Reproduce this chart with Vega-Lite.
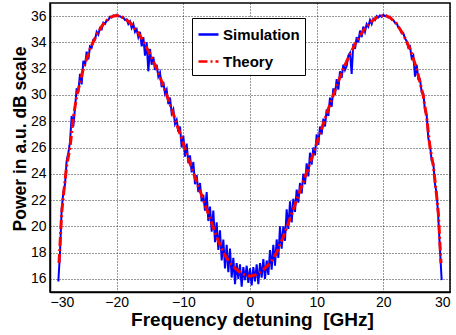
{
  "$schema": "https://vega.github.io/schema/vega-lite/v6.json",
  "width": 400,
  "height": 289,
  "autosize": {"type": "none"},
  "padding": {"left": 50, "top": 3, "right": 6, "bottom": 43},
  "background": "white",
  "config": {
    "font": "Liberation Sans",
    "view": {"stroke": "black", "strokeWidth": 1.5},
    "axis": {
      "labelFont": "Liberation Sans", "labelFontSize": 14, "labelColor": "black",
      "titleFont": "Liberation Sans", "titleFontWeight": "bold", "titleColor": "black",
      "domainColor": "black", "domainWidth": 1.5,
      "ticks": false,
      "gridColor": "black", "gridDash": [1, 2], "gridOpacity": 0.8, "gridWidth": 1
    }
  },
  "datasets": {
    "sim": [
      {"f":-28.75,"p":15.8},{"f":-28.5,"p":18.0},{"f":-28.25,"p":21.3},{"f":-28.0,"p":22.6},{"f":-27.75,"p":23.2},
      {"f":-27.5,"p":25.0},{"f":-27.25,"p":25.6},{"f":-27.0,"p":26.4},{"f":-26.75,"p":28.4},{"f":-26.5,"p":27.6},
      {"f":-26.25,"p":29.0},{"f":-26.0,"p":30.5},{"f":-25.75,"p":30.2},{"f":-25.5,"p":31.6},{"f":-25.25,"p":30.8},
      {"f":-25.0,"p":32.6},{"f":-24.75,"p":32.2},{"f":-24.5,"p":33.3},{"f":-24.25,"p":32.7},{"f":-24.0,"p":33.7},
      {"f":-23.75,"p":33.6},{"f":-23.5,"p":34.2},{"f":-23.25,"p":34.2},{"f":-23.0,"p":34.8},{"f":-22.75,"p":34.6},
      {"f":-22.5,"p":35.1},{"f":-22.25,"p":35.0},{"f":-22.0,"p":35.5},{"f":-21.75,"p":35.4},{"f":-21.5,"p":35.7},
      {"f":-21.25,"p":35.7},{"f":-21.0,"p":35.95},{"f":-20.75,"p":35.9},{"f":-20.5,"p":36.05},{"f":-20.25,"p":36.0},
      {"f":-20.0,"p":36.1},{"f":-19.75,"p":36.0},{"f":-19.5,"p":36.0},{"f":-19.25,"p":35.9},{"f":-19.0,"p":35.9},
      {"f":-18.75,"p":35.7},{"f":-18.5,"p":35.75},{"f":-18.25,"p":35.4},{"f":-18.0,"p":35.6},{"f":-17.75,"p":35.1},
      {"f":-17.5,"p":35.4},{"f":-17.25,"p":34.8},{"f":-17.0,"p":35.0},{"f":-16.75,"p":34.4},{"f":-16.5,"p":34.8},
      {"f":-16.25,"p":33.7},{"f":-16.0,"p":34.4},{"f":-15.75,"p":33.0},{"f":-15.5,"p":34.0},{"f":-15.25,"p":31.8},
      {"f":-15.0,"p":33.5},{"f":-14.75,"p":32.3},{"f":-14.5,"p":32.9},{"f":-14.25,"p":31.9},{"f":-14.0,"p":32.3},
      {"f":-13.75,"p":31.4},{"f":-13.5,"p":31.7},{"f":-13.25,"p":30.6},{"f":-13.0,"p":31.0},{"f":-12.75,"p":30.1},
      {"f":-12.5,"p":30.4},{"f":-12.25,"p":29.3},{"f":-12.0,"p":29.8},{"f":-11.75,"p":28.6},{"f":-11.5,"p":28.9},
      {"f":-11.25,"p":27.8},{"f":-11.0,"p":28.1},{"f":-10.75,"p":27.2},{"f":-10.5,"p":27.6},{"f":-10.25,"p":26.0},
      {"f":-10.0,"p":26.9},{"f":-9.75,"p":25.3},{"f":-9.5,"p":26.3},{"f":-9.25,"p":24.8},{"f":-9.0,"p":25.4},
      {"f":-8.75,"p":24.1},{"f":-8.5,"p":24.9},{"f":-8.25,"p":23.2},{"f":-8.0,"p":23.9},{"f":-7.75,"p":22.6},
      {"f":-7.5,"p":23.3},{"f":-7.25,"p":21.9},{"f":-7.0,"p":22.4},{"f":-6.75,"p":21.2},{"f":-6.5,"p":22.6},
      {"f":-6.25,"p":20.4},{"f":-6.0,"p":21.5},{"f":-5.75,"p":19.6},{"f":-5.5,"p":21.2},{"f":-5.25,"p":18.8},
      {"f":-5.0,"p":20.3},{"f":-4.75,"p":18.2},{"f":-4.5,"p":19.7},{"f":-4.25,"p":17.4},{"f":-4.0,"p":19.0},
      {"f":-3.75,"p":16.8},{"f":-3.5,"p":18.6},{"f":-3.25,"p":16.5},{"f":-3.0,"p":18.3},{"f":-2.75,"p":16.1},
      {"f":-2.5,"p":17.6},{"f":-2.25,"p":15.6},{"f":-2.0,"p":17.2},{"f":-1.75,"p":16.0},{"f":-1.5,"p":17.1},
      {"f":-1.25,"p":15.4},{"f":-1.0,"p":16.9},{"f":-0.75,"p":15.9},{"f":-0.5,"p":17.0},{"f":-0.25,"p":15.7},
      {"f":0.0,"p":16.8},{"f":0.25,"p":15.5},{"f":0.5,"p":16.9},{"f":0.75,"p":15.8},{"f":1.0,"p":17.1},
      {"f":1.25,"p":15.6},{"f":1.5,"p":17.2},{"f":1.75,"p":16.1},{"f":2.0,"p":17.5},{"f":2.25,"p":16.0},
      {"f":2.5,"p":17.4},{"f":2.75,"p":16.3},{"f":3.0,"p":18.2},{"f":3.25,"p":16.7},{"f":3.5,"p":18.6},
      {"f":3.75,"p":17.0},{"f":4.0,"p":19.0},{"f":4.25,"p":17.6},{"f":4.5,"p":20.0},{"f":4.75,"p":18.3},
      {"f":5.0,"p":20.0},{"f":5.25,"p":18.9},{"f":5.5,"p":21.3},{"f":5.75,"p":19.8},{"f":6.0,"p":21.9},
      {"f":6.25,"p":20.3},{"f":6.5,"p":22.1},{"f":6.75,"p":21.1},{"f":7.0,"p":22.8},{"f":7.25,"p":21.8},
      {"f":7.5,"p":23.3},{"f":7.75,"p":22.5},{"f":8.0,"p":24.0},{"f":8.25,"p":23.2},{"f":8.5,"p":24.8},
      {"f":8.75,"p":23.8},{"f":9.0,"p":25.6},{"f":9.25,"p":24.7},{"f":9.5,"p":26.0},{"f":9.75,"p":25.4},
      {"f":10.0,"p":27.0},{"f":10.25,"p":26.2},{"f":10.5,"p":27.6},{"f":10.75,"p":27.0},{"f":11.0,"p":28.2},
      {"f":11.25,"p":27.6},{"f":11.5,"p":28.9},{"f":11.75,"p":28.4},{"f":12.0,"p":29.8},{"f":12.25,"p":29.1},
      {"f":12.5,"p":30.5},{"f":12.75,"p":30.0},{"f":13.0,"p":31.2},{"f":13.25,"p":30.4},{"f":13.5,"p":31.8},
      {"f":13.75,"p":31.3},{"f":14.0,"p":32.3},{"f":14.25,"p":31.9},{"f":14.5,"p":32.2},{"f":14.75,"p":33.0},
      {"f":15.0,"p":33.2},{"f":15.25,"p":31.6},{"f":15.5,"p":33.9},{"f":15.75,"p":33.5},{"f":16.0,"p":34.4},
      {"f":16.25,"p":34.0},{"f":16.5,"p":34.9},{"f":16.75,"p":34.4},{"f":17.0,"p":35.2},{"f":17.25,"p":34.8},
      {"f":17.5,"p":35.4},{"f":17.75,"p":35.2},{"f":18.0,"p":35.7},{"f":18.25,"p":35.4},{"f":18.5,"p":35.8},
      {"f":18.75,"p":35.7},{"f":19.0,"p":36.0},{"f":19.25,"p":35.9},{"f":19.5,"p":36.05},{"f":19.75,"p":35.95},
      {"f":20.0,"p":36.1},{"f":20.25,"p":36.0},{"f":20.5,"p":36.05},{"f":20.75,"p":35.9},{"f":21.0,"p":35.95},
      {"f":21.25,"p":35.75},{"f":21.5,"p":35.7},{"f":21.75,"p":35.5},{"f":22.0,"p":35.45},{"f":22.25,"p":35.15},
      {"f":22.5,"p":35.05},{"f":22.75,"p":34.7},{"f":23.0,"p":34.7},{"f":23.25,"p":34.3},{"f":23.5,"p":34.1},
      {"f":23.75,"p":33.6},{"f":24.0,"p":33.7},{"f":24.25,"p":32.8},{"f":24.5,"p":33.0},{"f":24.75,"p":31.4},
      {"f":25.0,"p":32.3},{"f":25.25,"p":31.2},{"f":25.5,"p":31.2},{"f":25.75,"p":30.2},{"f":26.0,"p":30.1},
      {"f":26.25,"p":28.8},{"f":26.5,"p":28.5},{"f":26.75,"p":26.7},{"f":27.0,"p":26.2},{"f":27.25,"p":25.0},
      {"f":27.5,"p":24.8},{"f":27.75,"p":23.2},{"f":28.0,"p":22.5},{"f":28.25,"p":20.6},{"f":28.5,"p":18.2},
      {"f":28.75,"p":15.9}
    ],
    "theory": [
      {"f":-28.65,"p":17.2},{"f":-28.5,"p":18.6},{"f":-28.25,"p":21.0},{"f":-28.0,"p":22.3},{"f":-27.5,"p":24.6},
      {"f":-27.0,"p":26.0},{"f":-26.5,"p":28.3},{"f":-26.0,"p":29.9},{"f":-25.5,"p":30.95},{"f":-25.0,"p":32.0},
      {"f":-24.5,"p":32.75},{"f":-24.0,"p":33.5},{"f":-23.5,"p":34.05},{"f":-23.0,"p":34.6},{"f":-22.5,"p":35.0},
      {"f":-22.0,"p":35.4},{"f":-21.5,"p":35.65},{"f":-21.0,"p":35.9},{"f":-20.5,"p":36.0},{"f":-20.0,"p":36.05},
      {"f":-19.5,"p":35.98},{"f":-19.0,"p":35.9},{"f":-18.5,"p":35.7},{"f":-18.0,"p":35.5},{"f":-17.5,"p":35.2},
      {"f":-17.0,"p":34.9},{"f":-16.5,"p":34.5},{"f":-16.0,"p":34.1},{"f":-15.5,"p":33.6},{"f":-15.0,"p":33.1},
      {"f":-14.5,"p":32.55},{"f":-14.0,"p":32.0},{"f":-13.5,"p":31.35},{"f":-13.0,"p":30.7},{"f":-12.5,"p":30.0},
      {"f":-12.0,"p":29.3},{"f":-11.5,"p":28.55},{"f":-11.0,"p":27.8},{"f":-10.5,"p":27.05},{"f":-10.0,"p":26.3},
      {"f":-9.5,"p":25.55},{"f":-9.0,"p":24.8},{"f":-8.5,"p":24.1},{"f":-8.0,"p":23.4},{"f":-7.5,"p":22.7},
      {"f":-7.0,"p":22.0},{"f":-6.5,"p":21.3},{"f":-6.0,"p":20.6},{"f":-5.5,"p":19.9},{"f":-5.0,"p":19.2},
      {"f":-4.5,"p":18.6},{"f":-4.0,"p":18.0},{"f":-3.5,"p":17.6},{"f":-3.0,"p":17.2},{"f":-2.5,"p":16.95},
      {"f":-2.0,"p":16.7},{"f":-1.5,"p":16.5},{"f":-1.0,"p":16.35},{"f":-0.5,"p":16.25},{"f":0.0,"p":16.2},
      {"f":0.5,"p":16.25},{"f":1.0,"p":16.35},{"f":1.5,"p":16.5},{"f":2.0,"p":16.7},{"f":2.5,"p":16.95},
      {"f":3.0,"p":17.2},{"f":3.5,"p":17.6},{"f":4.0,"p":18.0},{"f":4.5,"p":18.6},{"f":5.0,"p":19.2},
      {"f":5.5,"p":19.9},{"f":6.0,"p":20.6},{"f":6.5,"p":21.3},{"f":7.0,"p":22.0},{"f":7.5,"p":22.7},
      {"f":8.0,"p":23.4},{"f":8.5,"p":24.1},{"f":9.0,"p":24.8},{"f":9.5,"p":25.55},{"f":10.0,"p":26.3},
      {"f":10.5,"p":27.05},{"f":11.0,"p":27.8},{"f":11.5,"p":28.55},{"f":12.0,"p":29.3},{"f":12.5,"p":30.0},
      {"f":13.0,"p":30.7},{"f":13.5,"p":31.35},{"f":14.0,"p":32.0},{"f":14.5,"p":32.55},{"f":15.0,"p":33.1},
      {"f":15.5,"p":33.6},{"f":16.0,"p":34.1},{"f":16.5,"p":34.5},{"f":17.0,"p":34.9},{"f":17.5,"p":35.2},
      {"f":18.0,"p":35.5},{"f":18.5,"p":35.7},{"f":19.0,"p":35.9},{"f":19.5,"p":35.98},{"f":20.0,"p":36.05},
      {"f":20.5,"p":36.0},{"f":21.0,"p":35.9},{"f":21.5,"p":35.65},{"f":22.0,"p":35.4},{"f":22.5,"p":35.0},
      {"f":23.0,"p":34.6},{"f":23.5,"p":34.05},{"f":24.0,"p":33.5},{"f":24.5,"p":32.75},{"f":25.0,"p":32.0},
      {"f":25.5,"p":30.95},{"f":26.0,"p":29.9},{"f":26.5,"p":28.3},{"f":27.0,"p":26.0},{"f":27.5,"p":24.6},
      {"f":28.0,"p":22.3},{"f":28.25,"p":21.0},{"f":28.5,"p":18.6},{"f":28.65,"p":17.2}
    ]
  },
  "encoding": {
    "x": {"field": "f", "type": "quantitative",
      "scale": {"domain": [-30, 30], "nice": false, "zero": false},
      "axis": {"values": [-30, -20, -10, 0, 10, 20, 30], "title": "Frequency detuning\u00a0 [GHz]",
        "labelPadding": 3, "titleFontSize": 19, "titleBaseline": "alphabetic", "titleX": 202, "titleY": 33}},
    "y": {"field": "p", "type": "quantitative",
      "scale": {"domain": [15, 37], "nice": false, "zero": false},
      "axis": {"values": [16, 18, 20, 22, 24, 26, 28, 30, 32, 34, 36], "title": "Power in a.u. dB scale",
        "labelPadding": 4, "titleFontSize": 17.5, "titleBaseline": "alphabetic", "titleX": -25, "titleY": 135.5}}
  },
  "layer": [
    {
      "data": {"name": "sim"},
      "transform": [{"calculate": "'Simulation'", "as": "series"}],
      "mark": {"type": "line", "strokeWidth": 2, "clip": true},
      "encoding": {
        "color": {"field": "series", "type": "nominal",
          "scale": {"domain": ["Simulation", "Theory"], "range": ["#0000ff", "#ff0000"]},
          "legend": {"title": null, "orient": "none", "legendX": 142, "legendY": 15,
            "strokeColor": "black", "fillColor": "white", "padding": 5,
            "labelFont": "Liberation Sans", "labelFontSize": 15, "labelFontWeight": "bold", "labelColor": "black",
            "labelExpr": "datum.label + '\u00a0\u00a0\u00a0\u00a0'",
            "symbolType": "stroke", "symbolSize": 400, "symbolStrokeWidth": 2.5, "rowPadding": 7, "labelOffset": 3}},
        "strokeDash": {"field": "series", "type": "nominal",
          "scale": {"domain": ["Simulation", "Theory"], "range": [[1, 0], [9, 3, 2, 3]]}}
      }
    },
    {
      "data": {"name": "theory"},
      "transform": [{"calculate": "'Theory'", "as": "series"}],
      "mark": {"type": "line", "strokeWidth": 3, "clip": true},
      "encoding": {
        "color": {"field": "series", "type": "nominal"},
        "strokeDash": {"field": "series", "type": "nominal"}
      }
    }
  ]
}
